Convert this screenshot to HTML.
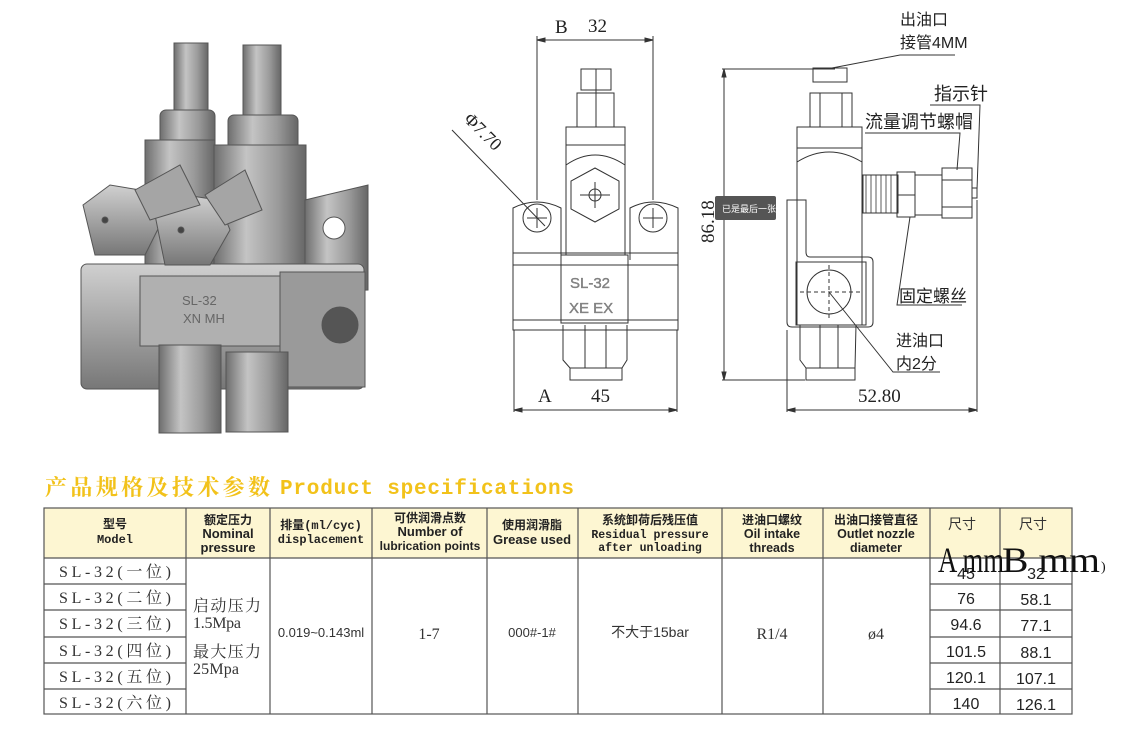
<!DOCTYPE html>
<html><head><meta charset="utf-8"><style>
html,body{margin:0;padding:0;background:#fff;}
svg{display:block;}
.cn{font-family:"Liberation Sans","Noto Sans CJK SC",sans-serif;}
.sf{font-family:"Liberation Serif","Noto Serif CJK SC",serif;}
.mo{font-family:"Liberation Mono","Noto Sans CJK SC",monospace;}
</style></head><body>
<svg width="1122" height="732" viewBox="0 0 1122 732" xmlns="http://www.w3.org/2000/svg">
<defs>
<linearGradient id="m1" x1="0" x2="1"><stop offset="0" stop-color="#6e6e6e"/><stop offset=".35" stop-color="#c4c4c4"/><stop offset=".7" stop-color="#9a9a9a"/><stop offset="1" stop-color="#666"/></linearGradient>
<linearGradient id="m2" x1="0" y1="0" x2="0" y2="1"><stop offset="0" stop-color="#d0d0d0"/><stop offset=".5" stop-color="#a4a4a4"/><stop offset="1" stop-color="#777"/></linearGradient>
</defs>
<!-- PHOTO -->
<g stroke="#555" stroke-width="1">
<rect x="174" y="43" width="34" height="72" fill="url(#m1)"/>
<rect x="243" y="45" width="38" height="70" fill="url(#m1)"/>
<rect x="160" y="110" width="55" height="40" rx="6" fill="url(#m1)"/>
<rect x="228" y="115" width="70" height="40" rx="6" fill="url(#m1)"/>
<rect x="145" y="140" width="70" height="135" fill="url(#m1)"/>
<rect x="214" y="145" width="92" height="140" fill="url(#m1)"/>
<path d="M305 200 L368 185 L368 290 L305 292Z" fill="url(#m1)"/>
<circle cx="334" cy="228" r="11" fill="#fff"/>
<rect x="81" y="264" width="283" height="125" rx="6" fill="url(#m2)"/>
<rect x="140" y="276" width="140" height="70" fill="#b0b0b0"/>
<rect x="280" y="272" width="85" height="115" fill="#9a9a9a"/>
<circle cx="340" cy="325" r="18" fill="#555"/>
<rect x="159" y="345" width="62" height="88" fill="url(#m1)"/>
<rect x="226" y="352" width="62" height="80" fill="url(#m1)"/>
<path d="M83 205 L110 185 L140 190 L165 215 L145 255 L95 255 Z" fill="url(#m2)"/>
<path d="M155 215 L185 195 L218 200 L230 230 L210 265 L165 265 Z" fill="url(#m2)"/>
<path d="M135 190 L180 165 L200 205 L150 220Z" fill="#a5a5a5"/>
<path d="M205 195 L245 170 L262 210 L225 225Z" fill="#a5a5a5"/>
<circle cx="105" cy="220" r="3" fill="#444"/><circle cx="181" cy="230" r="3" fill="#444"/>
</g>
<text x="182" y="305" class="cn" font-size="13" fill="#666">SL-32</text>
<text x="183" y="323" class="cn" font-size="13" fill="#666">XN MH</text>

<!-- FRONT DRAWING -->
<g stroke="#333" stroke-width="1" fill="none">
<line x1="537" y1="36" x2="537" y2="200"/><line x1="653" y1="36" x2="653" y2="200"/>
<line x1="537" y1="40" x2="653" y2="40"/>
<path d="M537 40 l8 -2 v4z M653 40 l-8 -2 v4z" fill="#333"/>
<rect x="581" y="69" width="30" height="21"/><line x1="596" y1="69" x2="596" y2="127"/>
<rect x="577" y="93" width="37" height="34"/>
<rect x="566" y="127" width="59" height="128"/><line x1="566" y1="145" x2="625" y2="145"/>
<path d="M566 165 Q595 145 625 165"/>
<polygon points="595,168 619,181 619,209 595,222 571,209 571,181"/>
<circle cx="595" cy="195" r="6"/><line x1="580" y1="195" x2="610" y2="195"/><line x1="595" y1="182" x2="595" y2="208"/>
<path d="M513 260 V208 Q537 196 561 208 V260"/>
<path d="M630 260 V208 Q653 196 678 208 V260"/>
<circle cx="537" cy="218" r="14"/><circle cx="653" cy="218" r="14"/>
<line x1="527" y1="218" x2="547" y2="218"/><line x1="537" y1="208" x2="537" y2="228"/>
<line x1="643" y1="218" x2="663" y2="218"/><line x1="653" y1="208" x2="653" y2="228"/>
<rect x="513" y="253" width="165" height="77"/><line x1="513" y1="265" x2="678" y2="265"/><line x1="513" y1="320" x2="678" y2="320"/>
<rect x="561" y="255" width="67" height="68"/>
<path d="M563 325 V360 L570 368 H622 L627 360 V325"/><line x1="585" y1="325" x2="585" y2="368"/><line x1="606" y1="325" x2="606" y2="368"/>
<rect x="570" y="368" width="52" height="12"/>
<line x1="514" y1="330" x2="514" y2="412"/><line x1="677" y1="330" x2="677" y2="412"/>
<line x1="514" y1="410" x2="677" y2="410"/>
<path d="M514 410 l8 -2 v4z M677 410 l-8 -2 v4z" fill="#333"/>
<line x1="452" y1="130" x2="545" y2="226"/>
</g>
<text x="555" y="33" class="sf" font-size="19" fill="#222">B</text>
<text x="588" y="32" class="sf" font-size="19" fill="#222">32</text>
<text transform="translate(463,120) rotate(45)" class="sf" font-size="18" fill="#222">Φ7.70</text>
<text x="570" y="288" class="cn" font-size="15" fill="#888" stroke="#666" stroke-width=".3">SL-32</text>
<text x="569" y="313" class="cn" font-size="15" fill="#888" stroke="#666" stroke-width=".3">XE  EX</text>
<text x="538" y="402" class="sf" font-size="19" fill="#222">A</text>
<text x="591" y="402" class="sf" font-size="19" fill="#222">45</text>

<!-- SIDE DRAWING -->
<g stroke="#333" stroke-width="1" fill="none">
<line x1="722" y1="69" x2="835" y2="69"/><line x1="722" y1="380" x2="805" y2="380"/>
<line x1="724" y1="69" x2="724" y2="380"/>
<path d="M724 69 l-2 8 h4z M724 380 l-2 -8 h4z" fill="#333"/>
<rect x="813" y="68" width="34" height="14"/>
<rect x="810" y="93" width="42" height="34"/><line x1="820" y1="93" x2="820" y2="127"/><line x1="842" y1="93" x2="842" y2="127"/>
<rect x="797" y="127" width="65" height="198"/><line x1="797" y1="148" x2="862" y2="148"/>
<path d="M797 162 Q829 142 862 162"/>
<path d="M787 200 V322 Q787 327 792 327 H868 Q873 327 873 322 V262 Q873 257 868 257 H810 Q806 257 806 252 V200 Z"/>
<rect x="796" y="262" width="70" height="63"/>
<circle cx="829" cy="292" r="22"/><line x1="800" y1="292" x2="862" y2="292" stroke-dasharray="4 3"/><line x1="829" y1="265" x2="829" y2="320" stroke-dasharray="4 3"/>
<path d="M800 325 V360 L806 368 H855 L856 325"/><line x1="820" y1="325" x2="820" y2="368"/><line x1="838" y1="325" x2="838" y2="368"/>
<rect x="806" y="368" width="49" height="12"/>
<rect x="863" y="175" width="35" height="38"/>
<path d="M866 175 v38 M871 175 v38 M876 175 v38 M881 175 v38 M886 175 v38 M891 175 v38" stroke-width=".8"/>
<rect x="897" y="172" width="18" height="45"/><line x1="897" y1="195" x2="915" y2="195"/>
<rect x="915" y="175" width="27" height="40"/>
<rect x="942" y="168" width="30" height="50"/><line x1="942" y1="180" x2="972" y2="180"/><line x1="942" y1="207" x2="972" y2="207"/>
<rect x="972" y="188" width="5" height="10"/>
<line x1="787" y1="330" x2="787" y2="412"/><line x1="977" y1="200" x2="977" y2="412"/>
<line x1="787" y1="410" x2="977" y2="410"/>
<path d="M787 410 l8 -2 v4z M977 410 l-8 -2 v4z" fill="#333"/>
<polyline points="832,68 900,55 955,55"/>
<polyline points="930,105 980,105 977,190"/>
<polyline points="865,133 960,133 957,170"/>
<polyline points="962,305 897,305 910,217"/>
<polyline points="829,292 893,372 940,372"/>
</g>
<text x="900" y="25" class="cn" font-size="16" fill="#222">出油口</text>
<text x="900" y="48" class="cn" font-size="16" fill="#222">接管4MM</text>
<text x="934" y="100" class="cn" font-size="18" fill="#222">指示针</text>
<text x="865" y="128" class="cn" font-size="18" fill="#222">流量调节螺帽</text>
<text x="899" y="302" class="cn" font-size="17" fill="#222">固定螺丝</text>
<text x="896" y="346" class="cn" font-size="16" fill="#222">进油口</text>
<text x="896" y="369" class="cn" font-size="16" fill="#222">内2分</text>
<text x="858" y="402" class="sf" font-size="19" fill="#222">52.80</text>
<text transform="translate(714,243) rotate(-90)" class="sf" font-size="19" fill="#222">86.18</text>
<rect x="715" y="196" width="61" height="24" rx="2" fill="#555"/>
<text x="722" y="212" class="cn" font-size="9" fill="#fff">已是最后一张</text>

<!-- TITLE -->
<text x="45" y="495" class="sf" font-size="22" font-weight="bold" fill="#f2c21a" textLength="225" lengthAdjust="spacing">产品规格及技术参数</text>
<text x="280" y="494" class="mo" font-size="21" font-weight="bold" fill="#f2c21a" textLength="294">Product specifications</text>

<!-- TABLE -->
<rect x="44" y="508" width="1028" height="50" fill="#fdf6d2"/>
<g stroke="#555" stroke-width="1.2" fill="none">
<rect x="44" y="508" width="1028" height="206"/>
<line x1="44" y1="558" x2="1072" y2="558"/>
<line x1="186" y1="508" x2="186" y2="714"/><line x1="270" y1="508" x2="270" y2="714"/>
<line x1="372" y1="508" x2="372" y2="714"/><line x1="487" y1="508" x2="487" y2="714"/>
<line x1="578" y1="508" x2="578" y2="714"/><line x1="722" y1="508" x2="722" y2="714"/>
<line x1="823" y1="508" x2="823" y2="714"/><line x1="930" y1="508" x2="930" y2="714"/>
<line x1="1000" y1="508" x2="1000" y2="714"/>
<path d="M44 584H186M44 610H186M44 637H186M44 663H186M44 689H186"/>
<path d="M930 584H1072M930 610H1072M930 637H1072M930 663H1072M930 689H1072"/>
</g>
<g font-weight="bold" fill="#222" text-anchor="middle">
<text x="115" y="528" class="cn" font-size="12">型号</text>
<text x="115" y="543" class="mo" font-size="12">Model</text>
<text x="228" y="524" class="cn" font-size="12">额定压力</text>
<text x="228" y="538" class="cn" font-size="13">Nominal</text>
<text x="228" y="552" class="cn" font-size="13">pressure</text>
<text x="321" y="529" class="mo" font-size="12">排量(ml/cyc)</text>
<text x="321" y="543" class="mo" font-size="12">displacement</text>
<text x="430" y="522" class="cn" font-size="12">可供润滑点数</text>
<text x="430" y="536" class="cn" font-size="13">Number of</text>
<text x="430" y="550" class="cn" font-size="12">lubrication points</text>
<text x="532" y="529" class="cn" font-size="12">使用润滑脂</text>
<text x="532" y="544" class="cn" font-size="13">Grease used</text>
<text x="650" y="524" class="cn" font-size="12">系统卸荷后残压值</text>
<text x="650" y="538" class="mo" font-size="11.5">Residual pressure</text>
<text x="650" y="551" class="mo" font-size="11.5">after unloading</text>
<text x="772" y="524" class="cn" font-size="12">进油口螺纹</text>
<text x="772" y="538" class="cn" font-size="12.5">Oil intake</text>
<text x="772" y="552" class="cn" font-size="12.5">threads</text>
<text x="876" y="524" class="cn" font-size="12">出油口接管直径</text>
<text x="876" y="538" class="cn" font-size="12.5">Outlet nozzle</text>
<text x="876" y="552" class="cn" font-size="12.5">diameter</text>
</g>
<g fill="#333" font-size="14">
<text x="962" y="529" class="cn" text-anchor="middle">尺寸</text>
<text x="1033" y="529" class="cn" text-anchor="middle">尺寸</text>
</g>
<g class="sf" font-size="16" fill="#333">
<text x="59" y="577" textLength="112" lengthAdjust="spacing">SL-32(一位)</text>
<text x="59" y="603" textLength="112" lengthAdjust="spacing">SL-32(二位)</text>
<text x="59" y="629" textLength="112" lengthAdjust="spacing">SL-32(三位)</text>
<text x="59" y="656" textLength="112" lengthAdjust="spacing">SL-32(四位)</text>
<text x="59" y="682" textLength="112" lengthAdjust="spacing">SL-32(五位)</text>
<text x="59" y="708" textLength="112" lengthAdjust="spacing">SL-32(六位)</text>
<text x="193" y="611" textLength="68" lengthAdjust="spacing">启动压力</text>
<text x="193" y="628" textLength="48" lengthAdjust="spacing">1.5Mpa</text>
<text x="193" y="657" textLength="68" lengthAdjust="spacing">最大压力</text>
<text x="193" y="674" textLength="46" lengthAdjust="spacing">25Mpa</text>
<text x="429" y="639" text-anchor="middle">1-7</text>
<text x="772" y="639" text-anchor="middle">R1/4</text>
<text x="876" y="639" text-anchor="middle">ø4</text>
</g>
<g class="cn" fill="#333" font-size="13" text-anchor="middle">
<text x="321" y="637">0.019~0.143ml</text>
<text x="532" y="637">000#-1#</text>
<text x="650" y="637" font-size="14">不大于15bar</text>
</g>
<g class="cn" fill="#222" font-size="16" text-anchor="middle">
<text x="966" y="579">45</text><text x="1036" y="579">32</text>
<text x="966" y="604">76</text><text x="1036" y="605">58.1</text>
<text x="966" y="630">94.6</text><text x="1036" y="631">77.1</text>
<text x="966" y="657">101.5</text><text x="1036" y="658">88.1</text>
<text x="966" y="683">120.1</text><text x="1036" y="684">107.1</text>
<text x="966" y="709">140</text><text x="1036" y="710">126.1</text>
</g>
<text x="938" y="572" class="sf" font-size="36" fill="#111" textLength="66" lengthAdjust="spacingAndGlyphs">A mm</text>
<text x="1002" y="572" class="sf" font-size="36" fill="#111" textLength="98" lengthAdjust="spacingAndGlyphs">B mm</text>
<text x="1101" y="571" class="sf" font-size="14" fill="#111">)</text>
</svg>
</body></html>
